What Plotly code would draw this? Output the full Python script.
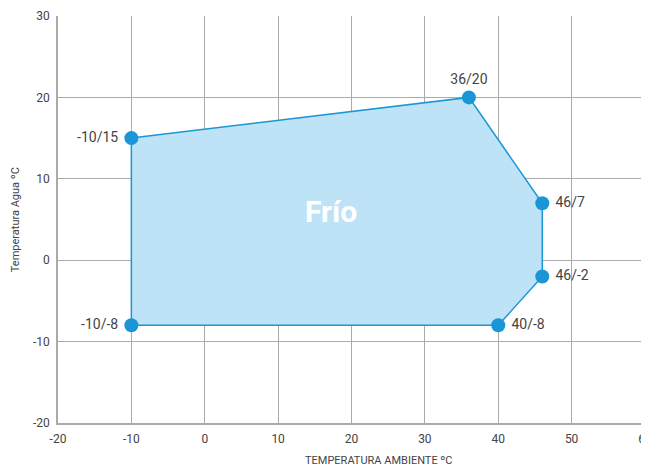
import plotly.graph_objects as go

# operating envelope points (ambient temp / water temp)
amb_temp = [-10, 36, 46, 46, 40, -10]
water_temp = [15, 20, 7, -2, -8, -8]
point_labels = ["-10/15", "36/20", "46/7", "46/-2", "40/-8", "-10/-8"]
label_pos = ["middle left", "top center", "middle right", "middle right", "middle right", "middle left"]

x_ticks = [-20, -10, 0, 10, 20, 30, 40, 50, 60]
y_ticks = [-20, -10, 0, 10, 20, 30]

BLUE = "#1a96d6"
TXT = "#444444"
GRID = "#aaaaaa"

fig = go.Figure()
fig.add_trace(
    go.Scatter(
        x=amb_temp + amb_temp[:1],
        y=water_temp + water_temp[:1],
        mode="lines",
        fill="toself",
        fillcolor="#bee3f7",
        line=dict(color=BLUE, width=1.5),
        hoverinfo="skip",
        showlegend=False,
    )
)
fig.add_trace(
    go.Scatter(
        x=amb_temp,
        y=water_temp,
        mode="markers+text",
        marker=dict(color=BLUE, size=14),
        text=[" " + t + " " for t in point_labels],
        textposition=label_pos,
        textfont=dict(family="Roboto", size=14, color=TXT),
        showlegend=False,
    )
)

fig.add_annotation(
    x=17.2, y=6, text="<b>Frío</b>", showarrow=False,
    font=dict(family="Roboto", size=30, color="white"),
)
# axis titles placed by hand
fig.add_annotation(
    xref="paper", yref="paper", x=0.547, y=-0.093, yanchor="middle",
    text="TEMPERATURA AMBIENTE ºC", showarrow=False,
    font=dict(family="Roboto", size=11, color=TXT),
)
fig.add_annotation(
    xref="paper", yref="paper", x=-0.072, y=0.5, xanchor="center",
    text="Temperatura Agua ºC", textangle=-90, showarrow=False,
    font=dict(family="Roboto", size=11, color=TXT),
)

# page body adds an 8px offset, margins compensate
fig.update_layout(
    width=649,
    height=465,
    template="plotly_white",
    plot_bgcolor="white",
    margin=dict(l=50, r=12, t=8, b=50),
    font=dict(family="Roboto", color=TXT),
)
fig.update_xaxes(
    range=[-20, 60],
    tickvals=x_ticks,
    ticktext=[str(v) for v in x_ticks],
    automargin=False,
    ticklabeloverflow="allow",
    showgrid=True,
    gridcolor=GRID,
    gridwidth=1,
    zeroline=False,
    showline=True,
    linecolor=GRID,
    linewidth=1.5,
    tickfont=dict(size=12, color=TXT),
    ticks="outside",
    ticklen=4,
    tickcolor="rgba(0,0,0,0)",
)
fig.update_yaxes(
    range=[-20, 30],
    tickvals=y_ticks,
    ticktext=[str(v) for v in y_ticks],
    automargin=False,
    ticklabeloverflow="allow",
    showgrid=True,
    gridcolor=GRID,
    gridwidth=1,
    zeroline=False,
    showline=True,
    linecolor=GRID,
    linewidth=1.5,
    tickfont=dict(size=12, color=TXT),
    ticks="outside",
    ticklen=4,
    tickcolor="rgba(0,0,0,0)",
)

fig.write_html("out.html")
